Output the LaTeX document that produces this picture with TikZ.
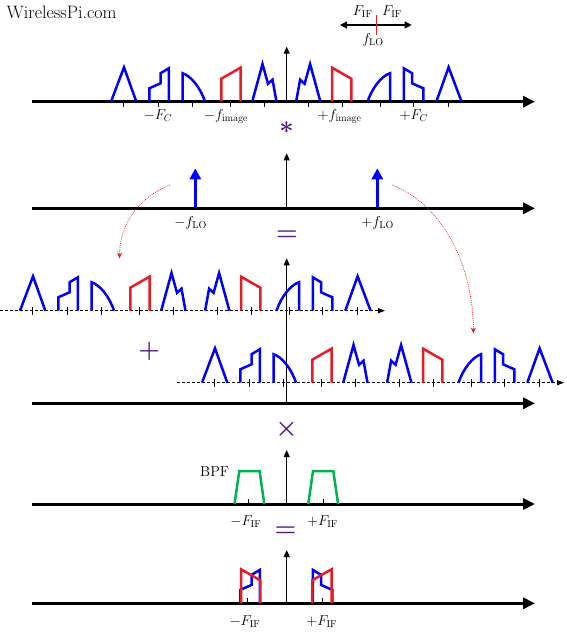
\documentclass[tikz,border=0pt]{standalone}
\usepackage{amsmath}
\usetikzlibrary{arrows.meta}
\definecolor{specblue}{RGB}{0,0,255}
\definecolor{specred}{RGB}{232,28,36}
\definecolor{bpfgreen}{RGB}{0,178,80}
\definecolor{opcol}{RGB}{88,28,128}
\tikzset{
  blueline/.style={draw=specblue,line width=2.5pt},
  redline/.style={draw=specred,line width=2.5pt},
  greenline/.style={draw=bpfgreen,line width=2.5pt},
  mainaxis/.style={line width=3pt,-{Triangle[length=12pt,width=11pt]}},
  vaxis/.style={line width=0.9pt,-{Triangle[length=7pt,width=6pt]}},
  daxis/.style={line width=0.8pt,dash pattern=on 3pt off 2pt,-{Triangle[length=7pt,width=5pt]}},
  tickline/.style={line width=0.8pt},
  loarrow/.style={draw=specblue,line width=3pt,-{Triangle[length=11pt,width=11pt]}},
  shiftarrow/.style={draw=specred,line width=0.6pt,dash pattern=on 1pt off 1pt,-{Stealth[length=6pt,width=5pt]}},
  legarrow/.style={line width=1.1pt,{Triangle[length=7pt,width=7pt]}-{Triangle[length=7pt,width=7pt]}},
  lbl/.style={inner sep=0pt,anchor=base,font=\fontsize{14.5}{16}\selectfont},
  opsym/.style={inner sep=0pt,anchor=base,text=opcol,font=\fontsize{28}{30}\selectfont},
}
\newcommand\shapeT{\draw[blueline] (-175.3,0) -- (-162.3,-34.4) -- (-150,0);}
\newcommand\shapeS{\draw[blueline] (-137,0) -- (-137,-13.4) -- (-125.7,-18.4) -- (-125.7,-28.5) -- (-117.5,-33.4) -- (-117.5,0);}
\newcommand\shapeC{\draw[blueline] (-103.8,0) -- (-103.8,-28.5) .. controls (-95,-25.5) and (-86,-14) .. (-81.2,0);}
\newcommand\shapeR{\draw[redline] (-65,0) -- (-65,-23) -- (-45.8,-34) -- (-45.8,0);}
\newcommand\shapeB{\draw[blueline] (-34.1,0) -- (-23.8,-37.7) -- (-18.3,-17.9) -- (-13.8,-22) -- (-9.8,0);}
\newcommand\halfspec{\shapeT\shapeS\shapeC\shapeR\shapeB}
\newcommand\fullspec[2]{%
  \begin{scope}[shift={(#1,#2)}]\halfspec\end{scope}
  \begin{scope}[shift={(#1,#2)},xscale=-1]\halfspec\end{scope}}
\newcommand\specticks[4]{%
  \foreach \t in {-162.5,-127.5,-94,-56,-22,22,56,94,127.5,162.5}
    \draw[tickline] ({#1+(\t)},{#2+(#3)}) -- ({#1+(\t)},{#2+(#4)});}
\begin{document}
\begin{tikzpicture}[x=1pt,y=-1pt]
\useasboundingbox (0,0) rectangle (566,644);

% title
\node[inner sep=0pt,anchor=base west,font=\fontsize{18}{20}\selectfont] (title) at (6.5,18.3) {WirelessPi.com};

% legend
\coordinate (legL) at (340,25);
\coordinate (legR) at (411.7,25);
\draw[legarrow] (legL) -- (legR);
\coordinate (legT) at (376.7,15);
\coordinate (legB) at (376.7,35);
\draw[specred,line width=0.9pt] (legT) -- (legB);
\node[lbl] (legif1) at (362.7,15.7) {$F_{\mathrm{IF}}$};
\node[lbl] (legif2) at (392,15.7) {$F_{\mathrm{IF}}$};
\node[lbl] (leglo) at (373,43.3) {$f_{\mathrm{LO}}$};

% ---------- row 1
\specticks{286.3}{101.7}{0}{5}
\draw[mainaxis] (31.8,101.7) -- (535,101.7);
\draw[vaxis] (286.7,101.7) -- (286.7,46.7);
\fullspec{286.3}{101.7}
\node[lbl] (fc1) at (158,119.5) {$-F_C$};
\node[lbl] (fim1) at (226,119.5) {$-f_{\mathrm{image}}$};
\node[lbl] (fim2) at (339.7,119.5) {$+f_{\mathrm{image}}$};
\node[lbl] (fc2) at (413.8,119.5) {$+F_C$};
\node[opsym] (conv) at (286.6,133.7) {$\boldsymbol{\ast}$};

% ---------- row 2
\draw[mainaxis] (31.8,208.3) -- (535,208.3);
\draw[vaxis] (286.7,208.3) -- (286.7,153.3);
\coordinate (lo1b) at (195.3,208.3);
\coordinate (lo1t) at (195.3,168.3);
\coordinate (lo2b) at (377.3,208.3);
\coordinate (lo2t) at (377.3,168.3);
\draw[loarrow] (lo1b) -- (lo1t);
\draw[loarrow] (lo2b) -- (lo2t);
\node[lbl] (flo1) at (190.6,226.5) {$-f_{\mathrm{LO}}$};
\node[lbl] (flo2) at (377.7,226.5) {$+f_{\mathrm{LO}}$};
\node[opsym] (eq1) at (287,240) {$\boldsymbol{=}$};

% shift arrows
\coordinate (sa1) at (170,185);
\coordinate (sa1e) at (119.5,258.5);
\coordinate (sa2) at (392,185);
\coordinate (sa2e) at (473.4,333.5);
\draw[shiftarrow] (sa1) .. controls (140,197) and (120,222) .. (sa1e);
\draw[shiftarrow] (sa2) .. controls (440,203) and (473,262) .. (sa2e);

% ---------- rows 3/4 (shifted copies)
\draw[vaxis] (286.7,403.3) -- (286.7,258.3);
\draw[daxis] (0,310.7) -- (385,310.7);
\specticks{195.3}{310.7}{-4}{4}
\fullspec{195.3}{310.7}
\draw[daxis] (177,382.7) -- (564,382.7);
\specticks{377.3}{382.7}{-4}{4}
\fullspec{377.3}{382.7}
\node[opsym] (plus) at (149.3,357) {$\boldsymbol{+}$};
\draw[mainaxis] (31.8,403.3) -- (535,403.3);
\node[opsym] (times) at (286.6,435.3) {$\boldsymbol{\times}$};

% ---------- row 5 (BPF)
\draw[mainaxis] (31.8,504) -- (535,504);
\draw[vaxis] (286.7,504) -- (286.7,450);
\draw[tickline] (248.8,504) -- (248.8,499);
\draw[tickline] (323.8,504) -- (323.8,499);
\draw[greenline] (234.5,504) -- (239.3,471) -- (259.6,471) -- (264.3,504);
\draw[greenline] (308.3,504) -- (313,471) -- (333.3,471) -- (338.1,504);
\node[lbl] (bpf) at (214.7,476) {BPF};
\node[lbl] (fif1) at (245.8,525) {$-F_{\mathrm{IF}}$};
\node[lbl] (fif2) at (322.6,525) {$+F_{\mathrm{IF}}$};
\node[opsym] (eq2) at (285.5,536.3) {$\boldsymbol{=}$};

% ---------- row 6 (result)
\draw[mainaxis] (31.8,603.3) -- (535,603.3);
\draw[vaxis] (286.7,603.3) -- (286.7,550);
\draw[tickline] (247.8,603.3) -- (247.8,598.3);
\draw[tickline] (322.8,603.3) -- (322.8,598.3);
\begin{scope}[shift={(377.3,603.3)}]\shapeS\end{scope}
\begin{scope}[shift={(195.3,603.3)},xscale=-1]\shapeS\end{scope}
\begin{scope}[shift={(195.3,603.3)},xscale=-1]\shapeR\end{scope}
\begin{scope}[shift={(377.3,603.3)}]\shapeR\end{scope}
\node[lbl] (fif3) at (245,625) {$-F_{\mathrm{IF}}$};
\node[lbl] (fif4) at (321.8,625) {$+F_{\mathrm{IF}}$};
\end{tikzpicture}
\end{document}
